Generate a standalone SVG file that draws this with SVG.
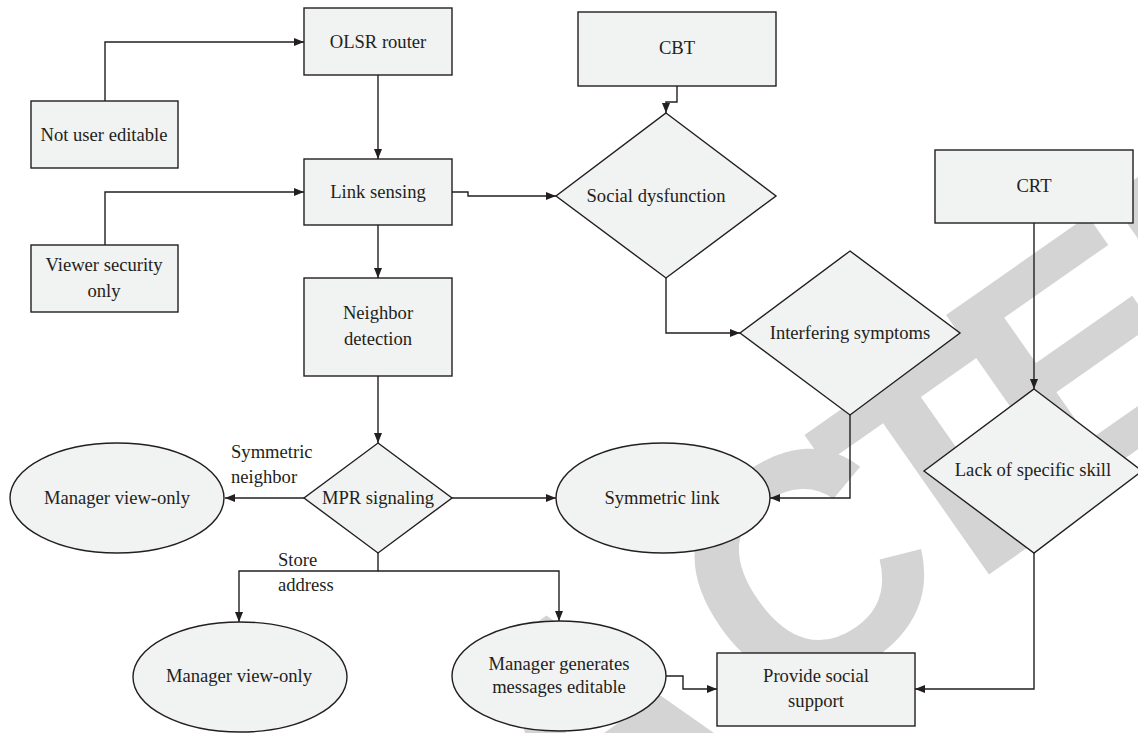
<svg xmlns="http://www.w3.org/2000/svg" width="1138" height="733" viewBox="0 0 1138 733">
<style>
.n{fill:#f1f2f2;stroke:#231f20;stroke-width:1.4}
.t{font-family:"Liberation Serif","Times New Roman",serif;font-size:18.6px;fill:#231f20;text-anchor:middle}
.l{font-family:"Liberation Serif","Times New Roman",serif;font-size:18.6px;fill:#231f20}
.c{fill:none;stroke:#231f20;stroke-width:1.4}
.wm{font-family:"Liberation Sans",Arial,sans-serif;font-weight:bold;font-size:320px;fill:#d4d4d4}
</style>
<defs>
<marker id="a" markerUnits="userSpaceOnUse" markerWidth="10" markerHeight="10" viewBox="0 0 10 10" refX="10" refY="5" orient="auto">
<path d="M0,1 L10,5 L0,9 Z" fill="#231f20"/>
</marker>
</defs>
<rect width="1138" height="733" fill="#fff"/>
<text class="wm" transform="translate(802 565) rotate(-35)"><tspan x="-1228" y="115">R</tspan><tspan x="-1009" y="115">E</tspan><tspan x="-808" y="115">T</tspan><tspan x="-624" y="115">R</tspan><tspan x="-381" y="115">A</tspan><tspan x="-115.5" y="115">C</tspan><tspan x="73" y="115">T</tspan><tspan x="240" y="98">E</tspan><tspan x="441" y="95">D</tspan></text>
<g id="connectors">
<path class="c" d="M105,101 V42 H304" marker-end="url(#a)"/>
<path class="c" d="M378,75 V159" marker-end="url(#a)"/>
<path class="c" d="M105,245 V192 H304" marker-end="url(#a)"/>
<path class="c" d="M452,192 H468 V196 H556" marker-end="url(#a)"/>
<path class="c" d="M677,86 V102 H666 V113" marker-end="url(#a)"/>
<path class="c" d="M378,225 V278" marker-end="url(#a)"/>
<path class="c" d="M378,376 V443" marker-end="url(#a)"/>
<path class="c" d="M666,278 V333 H740" marker-end="url(#a)"/>
<path class="c" d="M1034,223 V389" marker-end="url(#a)"/>
<path class="c" d="M304,498 H225" marker-end="url(#a)"/>
<path class="c" d="M452,498 H556" marker-end="url(#a)"/>
<path class="c" d="M850,415 V498 H770" marker-end="url(#a)"/>
<path class="c" d="M378,553 V571 H239 V622" marker-end="url(#a)"/>
<path class="c" d="M378,571 H559 V621" marker-end="url(#a)"/>
<path class="c" d="M1034,553 V689 H915" marker-end="url(#a)"/>
<path class="c" d="M666,676 H683 V689 H717" marker-end="url(#a)"/>
</g>
<g id="olsr"><rect class="n" x="304" y="8" width="148" height="67"/><text class="t" x="378" y="48">OLSR router</text></g>
<g id="notuser"><rect class="n" x="31" y="101" width="147" height="67"/><text class="t" x="104" y="141">Not user editable</text></g>
<g id="linksensing"><rect class="n" x="304" y="159" width="148" height="66"/><text class="t" x="378" y="198">Link sensing</text></g>
<g id="viewer"><rect class="n" x="31" y="245" width="147" height="67"/><text class="t" x="104" y="271">Viewer security</text><text class="t" x="104" y="297">only</text></g>
<g id="neighbor"><rect class="n" x="304" y="278" width="148" height="98"/><text class="t" x="378" y="319">Neighbor</text><text class="t" x="378" y="345">detection</text></g>
<g id="cbt"><rect class="n" x="578" y="12" width="198" height="74"/><text class="t" x="677" y="54">CBT</text></g>
<g id="social"><polygon class="n" points="666,113 776,196 666,278 556,196"/><text class="t" x="656" y="202">Social dysfunction</text></g>
<g id="crt"><rect class="n" x="935" y="150" width="198" height="73"/><text class="t" x="1034" y="192">CRT</text></g>
<g id="interfering"><polygon class="n" points="850,251 960,333 850,415 740,333"/><text class="t" x="850" y="339">Interfering symptoms</text></g>
<g id="lack"><polygon class="n" points="1034,389 1142,471 1034,553 924,471"/><text class="t" x="1033" y="476">Lack of specific skill</text></g>
<g id="mpr"><polygon class="n" points="378,443 452,498 378,553 304,498"/><text class="t" x="378" y="504">MPR signaling</text></g>
<g id="mvo1"><ellipse class="n" cx="117" cy="498" rx="107" ry="55"/><text class="t" x="117" y="504">Manager view-only</text></g>
<g id="symlink"><ellipse class="n" cx="663" cy="498" rx="107" ry="55"/><text class="t" x="662" y="504">Symmetric link</text></g>
<g id="mvo2"><ellipse class="n" cx="240" cy="677" rx="107" ry="55"/><text class="t" x="239" y="682">Manager view-only</text></g>
<g id="mgen"><ellipse class="n" cx="559" cy="676" rx="107" ry="55"/><text class="t" x="559" y="670">Manager generates</text><text class="t" x="559" y="693">messages editable</text></g>
<g id="provide"><rect class="n" x="717" y="653" width="198" height="73"/><text class="t" x="816" y="682">Provide social</text><text class="t" x="816" y="707">support</text></g>
<g id="labels">
<text class="l" x="231" y="458">Symmetric</text><text class="l" x="231" y="483">neighbor</text>
<text class="l" x="278" y="566">Store</text><text class="l" x="278" y="591">address</text>
</g>
</svg>
